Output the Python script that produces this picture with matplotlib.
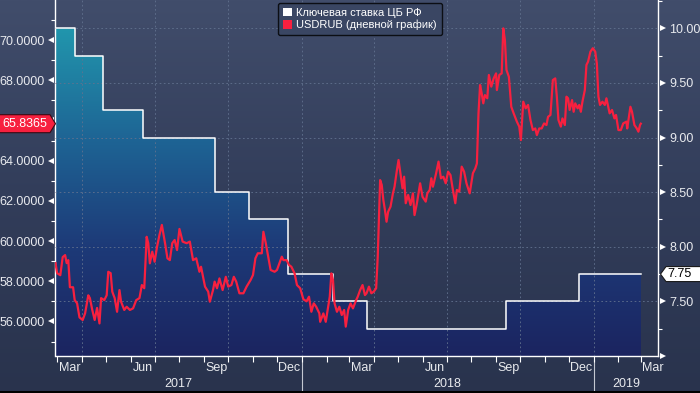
import numpy as np
import pandas as pd
import matplotlib
matplotlib.use('Agg')
import matplotlib.pyplot as plt
import matplotlib.dates as mdates
import matplotlib.transforms as mtrans
from matplotlib.patches import Polygon, Patch, Rectangle
from matplotlib.colors import LinearSegmentedColormap
from matplotlib.ticker import FixedLocator, FuncFormatter, NullFormatter

# ---- data ----
# CBR key rate (announcement dates), last entry = end of series
rate_dates = ['2017-02-27', '2017-03-24', '2017-04-28', '2017-06-16', '2017-09-15',
              '2017-10-27', '2017-12-15', '2018-02-09', '2018-03-23', '2018-09-14',
              '2018-12-14', '2019-03-01']
rates = [10.0, 9.75, 9.25, 9.0, 8.5, 8.25, 7.75, 7.5, 7.25, 7.5, 7.75, 7.75]

# USDRUB: days after 2017-03-01
rub_start = '2017-03-01'
rub_day = [-2, 0, 4, 7, 10, 12, 14, 16, 20, 22,
           25, 28, 32, 35, 39, 41, 44, 47, 50, 53,
           55, 59, 62, 64, 67, 69, 72, 75, 78, 80,
           84, 87, 91, 95, 99, 103, 106, 109, 112, 114,
           116, 119, 122, 125, 128, 131, 135, 138, 141, 144,
           147, 150, 153, 157, 162, 166, 170, 174, 178, 180,
           185, 189, 191, 195, 197, 200, 203, 207, 211, 214,
           218, 221, 224, 228, 233, 237, 242, 245, 248, 251,
           256, 258, 261, 264, 267, 272, 275, 278, 281, 283,
           287, 290, 293, 297, 300, 304, 308, 312, 315, 318,
           321, 324, 328, 329, 333, 336, 339, 341, 343, 345,
           347, 350, 353, 356, 359, 361, 364, 367, 370, 374,
           376, 379, 382, 385, 387, 390, 393, 396, 399, 401,
           404, 406, 408, 410, 412, 414, 417, 420, 422, 425,
           427, 430, 432, 434, 436, 439, 442, 445, 447, 450,
           454, 457, 461, 463, 466, 468, 470, 474, 477, 480,
           483, 486, 489, 492, 495, 498, 500, 503, 506, 509,
           512, 516, 520, 523, 525, 527, 529, 531, 533, 535,
           538, 540, 543, 546, 549, 550, 553, 556, 558, 560,
           562, 565, 568, 571, 575, 578, 580, 583, 586, 589,
           592, 595, 598, 600, 603, 606, 609, 612, 614, 617,
           620, 623, 625, 627, 630, 632, 635, 637, 639, 641,
           644, 646, 648, 651, 653, 655, 657, 660, 662, 664,
           667, 670, 673, 675, 677, 679, 682, 685, 687, 691,
           694, 697, 699, 702, 705, 708, 712, 713, 717, 719,
           722, 725, 727, 729, 730]
rub = [58.9, 58.4, 58.3, 59.2, 59.3, 58.9, 59.05, 57.7, 57.7, 57.06,
       56.9, 56.2, 56.07, 56.4, 57.3, 57.16, 56.57, 56.07, 56.67, 55.9,
       57.16, 57.06, 57.3, 58.47, 58.4, 57.48, 57.16, 56.48, 57.56, 56.98,
       56.57, 56.73, 56.57, 56.65, 57.06, 57.16, 57.81, 57.65, 60.21, 59.89,
       58.89, 59.47, 58.97, 59.72, 60.3, 60.8, 59.89, 59.14, 59.05, 59.89,
       60.05, 59.55, 60.6, 59.97, 59.89, 59.97, 59.05, 59.14, 58.47, 58.72,
       57.73, 57.48, 56.98, 57.56, 57.98, 57.65, 58.14, 57.56, 58.22, 57.73,
       57.81, 58.22, 57.98, 57.4, 57.4, 57.73, 58.06, 58.31, 59.14, 59.39,
       59.39, 60.46, 59.89, 59.22, 58.56, 58.47, 58.56, 58.89, 59.22, 59.05,
       59.05, 58.81, 58.72, 58.39, 57.81, 57.65, 57.1, 57.0, 57.23, 56.48,
       56.9, 56.73, 56.4, 55.98, 56.4, 55.98, 56.73, 57.23, 58.39, 58.06,
       56.9, 56.48, 56.73, 56.32, 56.57, 55.74, 56.57, 56.9, 56.65, 57.06,
       57.23, 57.56, 57.81, 57.31, 57.4, 57.73, 57.4, 57.48, 57.65, 59.22,
       63.03, 62.79, 62.04, 61.54, 60.96, 61.46, 61.71, 62.37, 62.7, 63.53,
       64.03, 63.2, 62.62, 63.2, 61.88, 62.29, 61.79, 62.37, 61.29, 61.88,
       62.87, 62.2, 61.96, 62.37, 62.54, 63.12, 62.7, 63.37, 63.95, 63.12,
       63.2, 62.87, 63.45, 63.28, 62.54, 61.88, 62.54, 62.45, 63.7, 63.45,
       62.87, 62.37, 63.37, 63.61, 63.86, 66.35, 67.76, 67.35, 66.85, 67.26,
       67.1, 68.26, 67.68, 68.09, 68.34, 67.51, 68.26, 68.34, 70.58, 70.0,
       68.51, 68.17, 66.68, 66.35, 65.94, 65.69, 65.02, 66.93, 66.6, 66.77,
       66.02, 65.52, 65.6, 65.27, 65.6, 65.6, 65.85, 65.77, 66.18, 66.27,
       68.01, 68.09, 67.18, 66.02, 65.69, 66.1, 65.77, 67.18, 67.1, 66.52,
       67.01, 66.43, 66.85, 66.6, 66.77, 66.43, 66.93, 67.51, 68.76, 68.92,
       69.42, 69.59, 69.42, 68.84, 67.18, 66.77, 66.93, 66.77, 67.1, 66.35,
       66.52, 66.1, 66.27, 65.52, 65.52, 65.85, 65.94, 65.6, 66.68, 66.43,
       65.77, 65.6, 65.44, 65.77, 65.8365]

legend_labels = ['Ключевая ставка ЦБ РФ', 'USDRUB (дневной график)']
month_names = {3: 'Mar', 6: 'Jun', 9: 'Sep', 12: 'Dec'}
years = [2017, 2018, 2019]
rub_ticks = [56, 58, 60, 62, 64, 66, 68, 70]
rub_minor = [55, 57, 59, 61, 63, 65, 67, 69, 71]
rate_ticks = [7.0, 7.5, 8.0, 8.5, 9.0, 9.5, 10.0]
rate_minor = [7.25, 7.75, 8.25, 8.75, 9.25, 9.75, 10.25]

# ---- style ----
RED = '#f7203f'
TXT = '#e8eaee'
GRID = '#62728f'
FONT = 'Liberation Sans'
W, H = 700, 393
xlim = (pd.Timestamp('2017-02-27'), pd.Timestamp('2019-03-22 12:00'))

fig = plt.figure(figsize=(W / 100, H / 100), dpi=100)

# background gradient
bg = fig.add_axes([0, 0, 1, 1], zorder=-5)
bg.imshow(np.linspace(0, 1, 256).reshape(-1, 1), aspect='auto', origin='upper',
          extent=[0, 1, 0, 1],
          cmap=LinearSegmentedColormap.from_list('bg', ['#414d6b', '#323d5a', '#29334d']))
bg.axis('off')
fig.add_artist(Rectangle((0, 0), 1, 2.5 / H, transform=fig.transFigure,
                         facecolor='black', edgecolor='none', zorder=20))

L, R, B, T = 55.5, 658, 356, 0
ax = fig.add_axes([L / W, (H - B) / H, (R - L) / W, (B - T) / H])
ax.patch.set_visible(False)
ax2 = ax.twinx()

# ---- key rate (step + gradient fill) ----
rd = pd.to_datetime(rate_dates)
poly = ax.fill_between(rd, rates, 6.0, step='post', facecolor='none', lw=0)
fill_cmap = LinearSegmentedColormap.from_list(
    'fill', ['#1b2460', '#1d3a78', '#1e6595', '#2196ad'])
xn = mdates.date2num(list(xlim))
im = ax.imshow(np.linspace(1, 0, 256).reshape(-1, 1), cmap=fill_cmap, aspect='auto',
               origin='upper', extent=[xn[0], xn[1], 7.0, max(rates)], zorder=1)
im.set_clip_path(poly.get_paths()[0], transform=ax.transData)
ax.step(rd, rates, where='post', color='white', lw=1.1, zorder=3)

ax.set_xlim(*xlim)
ax.set_ylim(7.0, 10.259)

# ---- USDRUB ----
rub_dates = pd.Timestamp(rub_start) + pd.to_timedelta(rub_day, unit='D')
ax2.plot(rub_dates, rub, color=RED, lw=1.6, zorder=5)
ax2.set_ylim(54.28, 71.99)
ax2.set_xlim(*xlim)

# ---- axes styling ----
for s in ax2.spines.values():
    s.set_visible(False)
ax.spines['top'].set_visible(False)
for k in ('left', 'right', 'bottom'):
    ax.spines[k].set_color('white')
    ax.spines[k].set_linewidth(1.0)

ax.yaxis.tick_right()
ax2.yaxis.tick_left()

ax.yaxis.set_major_locator(FixedLocator(rate_ticks))
ax.yaxis.set_minor_locator(FixedLocator(rate_minor))
ax.yaxis.set_major_formatter(FuncFormatter(lambda v, p: '' if v <= 7.0 else f'{v:.2f}'))
ax.tick_params(axis='y', which='major', length=0, pad=8, labelsize=9, labelcolor=TXT)
ax.tick_params(axis='y', which='minor', length=3, width=0.8, color='white', direction='out')

# the last-value box covers the tick label next to it
ax2.yaxis.set_major_locator(FixedLocator(rub_ticks))
ax2.yaxis.set_minor_locator(FixedLocator(rub_minor))
ax2.yaxis.set_major_formatter(
    FuncFormatter(lambda v, p: '' if abs(v - rub[-1]) < 0.9 else f'{v:.4f}'))
ax2.tick_params(axis='y', which='major', length=0, pad=8, labelsize=9, labelcolor=TXT)
ax2.tick_params(axis='y', which='minor', length=3, width=0.8, color='white', direction='out')
for a in (ax, ax2):
    for t in a.get_yticklabels():
        t.set_fontfamily(FONT)

ax.xaxis.set_major_locator(mdates.MonthLocator(bymonth=(1, 4, 7, 10)))
ax.xaxis.set_minor_locator(mdates.MonthLocator())
ax.xaxis.set_major_formatter(NullFormatter())
ax.xaxis.set_minor_formatter(NullFormatter())
ax.tick_params(axis='x', which='both', length=4, width=0.8, color='white', direction='out')

ax.set_axisbelow(False)
ax.yaxis.grid(True, which='major', color=GRID, ls=(0, (2, 3)), lw=0.6)
ax.xaxis.grid(True, which='major', color=GRID, ls=(0, (2, 3)), lw=0.6)

# triangular tick markers
px = 1 / 100
tl = mtrans.blended_transform_factory(ax2.transAxes, ax2.transData) + \
    mtrans.ScaledTranslation(-4.5 * px, 0, fig.dpi_scale_trans)
ax2.plot(np.zeros(len(rub_ticks)), rub_ticks, ls='none', marker='<', ms=5,
         color='white', mew=0, transform=tl, clip_on=False)
tr = mtrans.blended_transform_factory(ax.transAxes, ax.transData) + \
    mtrans.ScaledTranslation(5 * px, 0, fig.dpi_scale_trans)
ax.plot(np.ones(len(rate_ticks)), rate_ticks, ls='none', marker='>', ms=5,
        color='white', mew=0, transform=tr, clip_on=False)

# month and year labels
bx = mtrans.blended_transform_factory(ax.transData, ax.transAxes)
for m0 in pd.date_range('2017-03-01', '2019-03-01', freq='MS'):
    if m0.month in month_names:
        mid = m0 + (m0 + pd.offsets.MonthBegin(1) - m0) / 2
        ax.text(mid, -12 / 356, month_names[m0.month], transform=bx, ha='center',
                va='center', fontsize=9, color=TXT, family=FONT)
for y in years:
    a = max(xlim[0], pd.Timestamp(f'{y}-01-01'))
    b = min(xlim[1], pd.Timestamp(f'{y + 1}-01-01'))
    ax.text(a + (b - a) / 2, -28 / 356, str(y), transform=bx, ha='center',
            va='center', fontsize=9, color=TXT, family=FONT)
    if y > years[0]:
        ax.plot([a, a], [-4 / 356, -37 / 356], transform=bx, clip_on=False,
                color='#c4c8d2', lw=0.8)

# ---- legend ----
handles = [Patch(facecolor='white', edgecolor='none'), Patch(facecolor=RED, edgecolor='none')]
leg = fig.legend(handles, legend_labels, loc='upper center',
                 bbox_to_anchor=(360 / W, 1 + 3 / H), frameon=True,
                 fancybox=True, handlelength=0.8, handleheight=0.8, handletextpad=0.4,
                 borderpad=0.45, labelspacing=0.2, prop={'family': FONT, 'size': 8})
fr = leg.get_frame()
fr.set_facecolor('#3a4663')
fr.set_edgecolor('#0c0e14')
fr.set_linewidth(1.0)
fr.set_alpha(1)
for t in leg.get_texts():
    t.set_color('white')

# ---- last value boxes ----
ident = mtrans.IdentityTransform()
yr = ax2.transData.transform((0, rub[-1]))[1]
fig.add_artist(Polygon([(-2, yr - 9), (50, yr - 9), (55.5, yr), (50, yr + 9), (-2, yr + 9)],
                       closed=True, transform=ident, facecolor=RED, edgecolor='#3a0a14',
                       lw=0.8, zorder=10))
fig.text(25, yr, f'{rub[-1]:.4f}', transform=ident, ha='center', va='center',
         fontsize=9, color='white', family=FONT, zorder=11)

yk = ax.transData.transform((0, rates[-1]))[1]
fig.add_artist(Polygon([(660.5, yk), (666, yk - 7.5), (703, yk - 7.5), (703, yk + 7.5),
                        (666, yk + 7.5)], closed=True, transform=ident,
                       facecolor='white', edgecolor='#1a1a1a', lw=0.8, zorder=10))
fig.text(667.5, yk, f'{rates[-1]:.2f}', transform=ident, ha='left', va='center',
         fontsize=9, color='black', family=FONT, zorder=11)

fig.savefig('out.png', dpi=100)
